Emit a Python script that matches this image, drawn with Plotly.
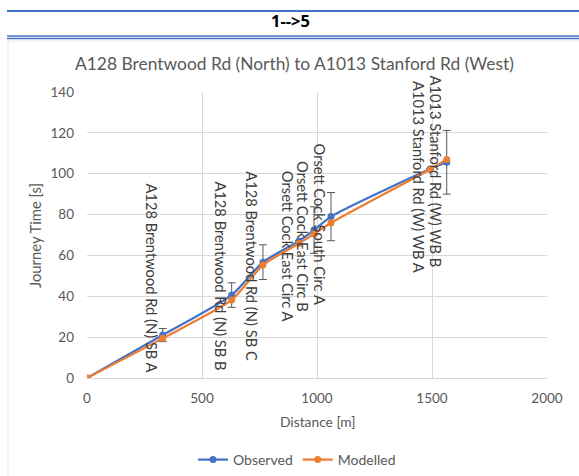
import plotly.graph_objects as go

# Journey-time profile, route 1 -> 5
stops = [
    "",
    "A128 Brentwood Rd (N) SB A",
    "A128 Brentwood Rd (N) SB B",
    "A128 Brentwood Rd (N) SB C",
    "Orsett Cock East Circ A",
    "Orsett Cock East Circ B",
    "Orsett Cock South Circ A",
    "A1013 Stanford Rd (W) WB A",
    "A1013 Stanford Rd (W) WB B",
]
distance_m = [0, 329, 629, 765, 922, 987, 1061, 1491, 1564]
observed_s = [0, 21.0, 40.6, 56.7, 67.1, 72.4, 79.0, 102.3, 105.6]
observed_err = [0, 3.2, 6.0, 8.5, 0, 11.4, 11.8, 0, 15.6]
modelled_s = [0, 19.4, 38.2, 55.3, 65.9, 70.5, 76.0, 102.1, 107.0]

x_ticks = [0, 500, 1000, 1500, 2000]
y_ticks = [0, 20, 40, 60, 80, 100, 120, 140]

# vertical nudge (px) for each rotated stop label
label_yshift = [0, 57, 19, -4, -5, -6, -7, -8, -9]

BLUE = "#4472C4"
ORANGE = "#ED7D31"
GREY_TXT = "#595959"
GRID = "#D9D9D9"
FONT = "Lato, 'Open Sans', sans-serif"

W, H = 579, 476
# plot area in pixels
PX0, PX1, PY0, PY1 = 87, 547, 92, 378

fig = go.Figure()

fig.add_trace(go.Scatter(
    x=distance_m, y=observed_s, name="Observed",
    mode="lines+markers",
    line=dict(color=BLUE, width=2.25, shape="spline", smoothing=0.6),
    marker=dict(color=BLUE, size=7),
    error_y=dict(type="data", array=observed_err, visible=True,
                 color="#595959", thickness=1, width=4),
))
fig.add_trace(go.Scatter(
    x=distance_m, y=modelled_s, name="Modelled",
    mode="lines+markers",
    line=dict(color=ORANGE, width=2.25, shape="spline", smoothing=0.6),
    marker=dict(color=ORANGE, size=7),
))

# rotated stop labels
for name, xv, yv, dy in zip(stops, distance_m, observed_s, label_yshift):
    if not name:
        continue
    fig.add_annotation(
        x=xv, y=yv, xref="x", yref="y", text=name, showarrow=False,
        textangle=90, xshift=-11, yshift=dy,
        xanchor="center", yanchor="middle",
        font=dict(family=FONT, size=14.7, color="#404040"),
    )

def px_x(p):
    return p / W

def px_y(p):
    return 1 - p / H

# header band with blue rules
fig.add_shape(type="line", xref="paper", yref="paper",
              x0=px_x(7), x1=px_x(579), y0=px_y(11), y1=px_y(11),
              line=dict(color="#4472C4", width=2))
fig.add_shape(type="line", xref="paper", yref="paper",
              x0=px_x(7), x1=px_x(579), y0=px_y(36), y1=px_y(36),
              line=dict(color="#4472C4", width=1.5))
fig.add_shape(type="line", xref="paper", yref="paper",
              x0=px_x(7), x1=px_x(579), y0=px_y(38.5), y1=px_y(38.5),
              line=dict(color="#4472C4", width=1.5))
# chart area frame
fig.add_shape(type="line", xref="paper", yref="paper",
              x0=px_x(7), x1=px_x(579), y0=px_y(41), y1=px_y(41),
              line=dict(color="#E8E8E8", width=1))
fig.add_shape(type="line", xref="paper", yref="paper",
              x0=px_x(8), x1=px_x(8), y0=px_y(41), y1=0,
              line=dict(color="#E8E8E8", width=1))

def text_at(px, py, txt, size, family=FONT, color=GREY_TXT, angle=0):
    fig.add_annotation(
        x=px_x(px), y=px_y(py), xref="paper", yref="paper", text=txt,
        showarrow=False, textangle=angle, xanchor="center", yanchor="middle",
        font=dict(family=family, size=size, color=color),
    )

text_at(290, 21, "<b>1-->5</b>", 16.5, family="'Open Sans', sans-serif", color="#000000")
text_at(294, 64, "A128 Brentwood Rd (North) to A1013 Stanford Rd (West)", 17.4)
text_at(317, 421, "Distance [m]", 13.8)
text_at(35, 236, "Journey Time [s]", 14.8, angle=-90)

fig.update_layout(
    width=W, height=H,
    margin=dict(l=0, r=0, t=0, b=0),
    paper_bgcolor="white", plot_bgcolor="white",
    font=dict(family=FONT, color=GREY_TXT, size=13.5),
    showlegend=True,
    legend=dict(orientation="h", x=px_x(297), xanchor="center",
                y=px_y(460), yanchor="middle",
                font=dict(family=FONT, size=14, color=GREY_TXT),
                itemwidth=30, tracegroupgap=0),
    xaxis=dict(domain=[px_x(PX0), px_x(PX1)], range=[0, 2000],
               tickvals=x_ticks, showgrid=True, gridcolor=GRID, gridwidth=1,
               zeroline=False, showline=True, linecolor=GRID, ticks="",
               ticklabelstandoff=8, automargin=False, fixedrange=True),
    yaxis=dict(domain=[1 - PY1 / H, 1 - PY0 / H], range=[0, 140],
               tickvals=y_ticks, showgrid=True, gridcolor=GRID, gridwidth=1,
               zeroline=False, showline=False, ticks="",
               ticklabelstandoff=12, automargin=False, fixedrange=True),
)

fig.write_html("out.html")
